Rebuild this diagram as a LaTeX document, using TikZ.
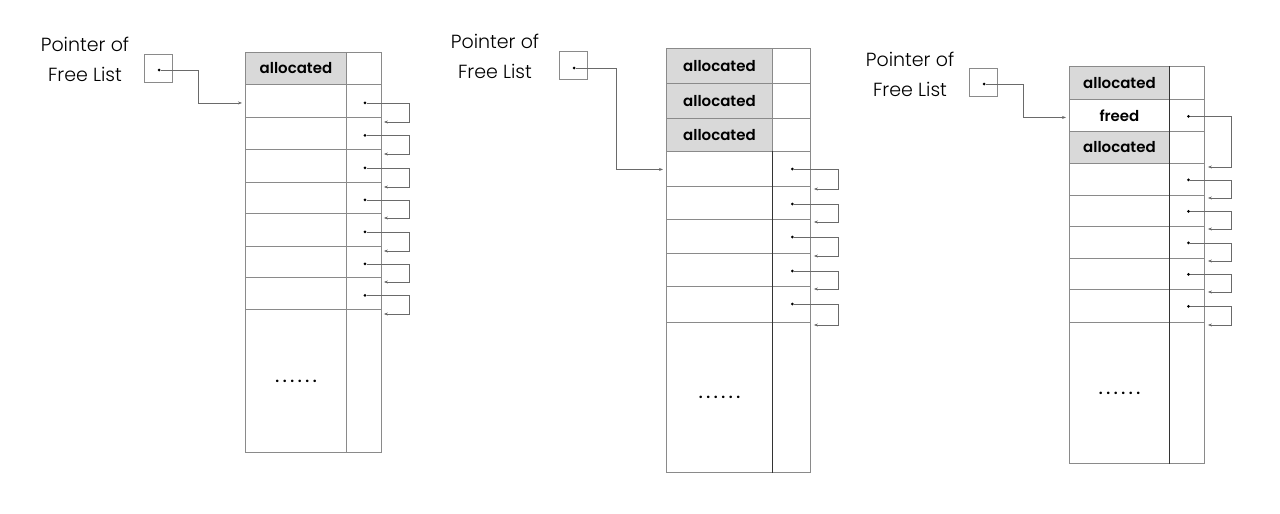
\documentclass[tikz,border=0pt]{standalone}
\usepackage{fontspec}
\setmainfont{Poppins}
\newfontfamily\lightfont{Poppins Light}
\newfontfamily\medfont{Poppins SemiBold}
\usetikzlibrary{arrows.meta,calc}
\definecolor{gridline}{HTML}{8A8A8A}
\definecolor{allocfill}{HTML}{D9D9D9}
\definecolor{connline}{HTML}{6A6A6A}
\newcommand\memrow[9]{% name, xL, xD, xR, yTop, yBot, style, text, right text
  \node[#7,minimum width={#3-#2},minimum height={#6-#5}] (#1) at (#2,#5) {#8};
  \node[cell,minimum width={#4-#3},minimum height={#6-#5}] (#1r) at (#3,#5) {#9};}
\newcommand\sixdots{.\kern3.6pt.\kern3.6pt.\kern3.6pt.\kern3.6pt.\kern3.6pt.}
\begin{document}
\begin{tikzpicture}[x=1pt,y=-1pt,
  cell/.style={draw=gridline,line width=0.9pt,inner sep=0,anchor=north west,
    font=\medfont\fontsize{15}{15}\selectfont},
  alloc/.style={cell,fill=allocfill},
  ptrbox/.style={draw=gridline,line width=0.8pt,minimum size=28pt,inner sep=0},
  dotn/.style={circle,fill=black,inner sep=0,minimum size=3pt},
  conn/.style={draw=connline,line width=0.6pt,-{Stealth[length=4pt,width=3pt]}},
  darkdiv/.style={draw=black!80,line width=0.9pt},
  ptrlabel/.style={font=\lightfont\fontsize{19}{30}\selectfont,align=center}]
\useasboundingbox[fill=white] (0,0) rectangle (1280,514);

% ---------------- Panel 1 ----------------
\node[ptrlabel] (l1) at (85,59) {Pointer of\\Free List};
\node[ptrbox] (p1) at (158,68) {};
\node[dotn] (p1d) at ($(p1.center)+(1,2)$) {};
\memrow{A0}{245}{346}{381}{52}{84}{alloc}{allocated}{}
\memrow{A1}{245}{346}{381}{84}{117}{cell}{}{}
\memrow{A2}{245}{346}{381}{117}{149}{cell}{}{}
\memrow{A3}{245}{346}{381}{149}{182}{cell}{}{}
\memrow{A4}{245}{346}{381}{182}{213}{cell}{}{}
\memrow{A5}{245}{346}{381}{213}{246}{cell}{}{}
\memrow{A6}{245}{346}{381}{246}{277}{cell}{}{}
\memrow{A7}{245}{346}{381}{277}{309}{cell}{}{}
\memrow{A8}{245}{346}{381}{309}{452}{cell}{\sixdots}{}
\draw[conn,shorten >=3pt] (p1d) -- ++(39,0) |- ($(A1.west)+(0,2)$);
\foreach \i [evaluate=\i as \j using int(\i+1)] in {1,...,7}{
  \node[dotn] (Ad\i) at ($(A\i r.center)+(1,2)$) {};
  \coordinate (At\i) at ($(A\j r.north east)+(2,5)$);
  \draw[conn] (Ad\i) -- ++(44,0) |- (At\i);
}

% ---------------- Panel 2 ----------------
\node[ptrlabel] (l2) at (495,56) {Pointer of\\Free List};
\node[ptrbox] (p2) at (573.5,65.5) {};
\node[dotn] (p2d) at ($(p2.center)+(0.5,2.5)$) {};
\memrow{B0}{666}{772}{810}{48}{83}{alloc}{allocated}{}
\memrow{B1}{666}{772}{810}{83}{118}{alloc}{allocated}{}
\memrow{B2}{666}{772}{810}{118}{151}{alloc}{allocated}{}
\memrow{B3}{666}{772}{810}{151}{186}{cell}{}{}
\memrow{B4}{666}{772}{810}{186}{219}{cell}{}{}
\memrow{B5}{666}{772}{810}{219}{253}{cell}{}{}
\memrow{B6}{666}{772}{810}{253}{286}{cell}{}{}
\memrow{B7}{666}{772}{810}{286}{322}{cell}{}{}
\memrow{B8}{666}{772}{810}{322}{472}{cell}{\sixdots}{}
\draw[darkdiv] (B3r.north west) -- (B8r.south west);
\draw[conn,shorten >=3pt] (p2d) -- ++(42,0) |- ($(B3.west)+(0,0.5)$);
\foreach \i [evaluate=\i as \j using int(\i+1)] in {3,...,7}{
  \node[dotn] (Bd\i) at ($(B\i r.north)+(1,18)$) {};
  \coordinate (Bt\i) at ($(B\j r.north east)+(3,3)$);
  \draw[conn] (Bd\i) -- ++(46,0) |- (Bt\i);
}

% ---------------- Panel 3 ----------------
\node[ptrlabel] (l3) at (910,74) {Pointer of\\Free List};
\node[ptrbox] (p3) at (983,82.5) {};
\node[dotn] (p3d) at ($(p3.center)+(1,1.5)$) {};
\memrow{C0}{1069}{1169}{1204}{66}{99}{alloc}{allocated}{}
\memrow{C1}{1069}{1169}{1204}{99}{131}{cell}{freed}{}
\memrow{C2}{1069}{1169}{1204}{131}{163}{alloc}{allocated}{}
\memrow{C3}{1069}{1169}{1204}{163}{195}{cell}{}{}
\memrow{C4}{1069}{1169}{1204}{195}{226}{cell}{}{}
\memrow{C5}{1069}{1169}{1204}{226}{258}{cell}{}{}
\memrow{C6}{1069}{1169}{1204}{258}{289}{cell}{}{}
\memrow{C7}{1069}{1169}{1204}{289}{322}{cell}{}{}
\memrow{C8}{1069}{1169}{1204}{322}{463}{cell}{\sixdots}{}
\draw[darkdiv] (C0r.north west) -- (C8r.south west);
\draw[conn,shorten >=3pt] (p3d) -- ++(39,0) |- ($(C1.west)+(0,2)$);
\node[dotn] (Cd1) at ($(C1r.center)+(1.5,1)$) {};
\coordinate (Ct1) at ($(C3r.north east)+(3,4)$);
\draw[conn] (Cd1) -- ++(43,0) |- (Ct1);
\foreach \i [evaluate=\i as \j using int(\i+1)] in {3,...,7}{
  \node[dotn] (Cd\i) at ($(C\i r.center)+(1.5,0.5)$) {};
  \coordinate (Ct\i) at ($(C\j r.north east)+(3,3)$);
  \draw[conn] (Cd\i) -- ++(43,0) |- (Ct\i);
}
\end{tikzpicture}
\end{document}
